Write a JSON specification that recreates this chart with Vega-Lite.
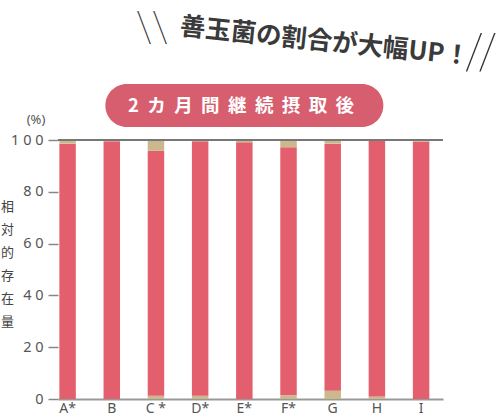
{
  "$schema": "https://vega.github.io/schema/vega-lite/v6.json",
  "autosize": {"type": "none"},
  "padding": {"left": 58, "top": 140, "right": 56, "bottom": 17},
  "width": 385,
  "height": 259,
  "config": {"view": {"stroke": null}, "font": "Noto Sans CJK JP"},
  "data": {
    "values": [
      {"cat": "A*", "seg": "mid", "ord": 2, "v": 98.6},
      {"cat": "A*", "seg": "high", "ord": 3, "v": 1.4},
      {"cat": "B", "seg": "mid", "ord": 2, "v": 99.5},
      {"cat": "B", "seg": "high", "ord": 3, "v": 0.5},
      {"cat": "C*", "seg": "low", "ord": 1, "v": 1.3},
      {"cat": "C*", "seg": "mid", "ord": 2, "v": 94.5},
      {"cat": "C*", "seg": "high", "ord": 3, "v": 3.7},
      {"cat": "C*", "seg": "other", "ord": 4, "v": 0.5},
      {"cat": "D*", "seg": "low", "ord": 1, "v": 1.3},
      {"cat": "D*", "seg": "mid", "ord": 2, "v": 98.2},
      {"cat": "D*", "seg": "high", "ord": 3, "v": 0.5},
      {"cat": "E*", "seg": "mid", "ord": 2, "v": 99.1},
      {"cat": "E*", "seg": "high", "ord": 3, "v": 0.9},
      {"cat": "F*", "seg": "low", "ord": 1, "v": 1.4},
      {"cat": "F*", "seg": "mid", "ord": 2, "v": 95.8},
      {"cat": "F*", "seg": "high", "ord": 3, "v": 2.8},
      {"cat": "G", "seg": "low", "ord": 1, "v": 3.2},
      {"cat": "G", "seg": "mid", "ord": 2, "v": 95.4},
      {"cat": "G", "seg": "high", "ord": 3, "v": 1.4},
      {"cat": "H", "seg": "low", "ord": 1, "v": 1.0},
      {"cat": "H", "seg": "mid", "ord": 2, "v": 99.0},
      {"cat": "I", "seg": "mid", "ord": 2, "v": 99.4},
      {"cat": "I", "seg": "high", "ord": 3, "v": 0.6}
    ]
  },
  "layer": [
    {
      "mark": {"type": "bar"},
      "encoding": {
        "x": {
          "field": "cat",
          "type": "nominal",
          "sort": null,
          "scale": {"paddingInner": 0.627, "paddingOuter": 0.17, "align": 0.09},
          "axis": {
            "title": null,
            "ticks": false,
            "domainColor": "#999",
            "domainWidth": 2,
            "labelAngle": 0,
            "labelPadding": 2,
            "labelFontSize": 14,
            "labelColor": "#555",
            "labelFont": "Noto Sans",
            "labelExpr": "datum.label == 'C*' ? 'C *' : datum.label"
          }
        },
        "y": {
          "field": "v",
          "type": "quantitative",
          "stack": "zero",
          "scale": {"domain": [0, 100], "nice": false},
          "axis": {
            "values": [0, 20, 40, 60, 80, 100],
            "domain": false,
            "grid": false,
            "tickSize": 10,
            "tickColor": "#888",
            "tickWidth": 1.5,
            "labelPadding": 5,
            "labelFontSize": 14.5,
            "labelColor": "#555",
            "labelFont": "Noto Sans",
            "labelExpr": "datum.value == 100 ? '1 0 0' : datum.value == 0 ? '0' : slice(datum.label, 0, 1) + ' ' + slice(datum.label, 1)",
            "title": ["相", "対", "的", "存", "在", "量"],
            "titleAngle": 0,
            "titleFontSize": 13,
            "titleFontWeight": "normal",
            "titleColor": "#444",
            "titleLineHeight": 23,
            "titleX": -51,
            "titleY": 60,
            "titleAlign": "center",
            "titleBaseline": "top",
            "titleFont": "Noto Sans CJK JP"
          }
        },
        "color": {
          "field": "seg",
          "type": "nominal",
          "scale": {
            "domain": ["low", "mid", "high", "other"],
            "range": ["#cbb88c", "#e45f6e", "#cbb88c", "#9c8866"]
          },
          "legend": null
        },
        "order": {"field": "ord", "type": "quantitative"}
      }
    },
    {
      "data": {"values": [{}]},
      "mark": {"type": "rule", "color": "#777", "strokeWidth": 2},
      "encoding": {"y": {"datum": 100, "type": "quantitative", "scale": {"domain": [0, 100], "nice": false}}}
    },
    {
      "data": {"values": [{}]},
      "mark": {"type": "bar", "width": 278, "cornerRadius": 21.5, "color": "#d65e6e"},
      "encoding": {
        "x": {"datum": "E*", "type": "nominal"},
        "y": {"datum": 105.0, "type": "quantitative", "scale": {"domain": [0, 100], "nice": false}},
        "y2": {"datum": 121.6}
      }
    },
    {
      "data": {"values": [{}]},
      "mark": {
        "type": "text",
        "text": "2\u00a0\u00a0カ\u00a0\u00a0月\u00a0\u00a0間\u00a0\u00a0継\u00a0\u00a0続\u00a0\u00a0摂\u00a0\u00a0取\u00a0\u00a0後",
        "font": "Noto Sans CJK JP",
        "fontSize": 18.5,
        "fontWeight": "bold",
        "color": "#ffffff",
        "baseline": "middle",
        "align": "center",
        "dx": -3.3
      },
      "encoding": {
        "x": {"datum": "E*", "type": "nominal"},
        "y": {"datum": 113.3, "type": "quantitative", "scale": {"domain": [0, 100], "nice": false}}
      }
    },
    {
      "data": {"values": [{}]},
      "mark": {
        "type": "text",
        "text": "(%)",
        "font": "Noto Sans",
        "fontSize": 13,
        "color": "#555",
        "baseline": "middle",
        "align": "center",
        "dx": -31.6
      },
      "encoding": {
        "x": {"datum": "A*", "type": "nominal"},
        "y": {"datum": 107.6, "type": "quantitative", "scale": {"domain": [0, 100], "nice": false}}
      }
    },
    {
      "data": {"values": [{}]},
      "mark": {
        "type": "text",
        "text": "善玉菌の割合が大幅UP！",
        "font": "Noto Sans CJK JP",
        "fontSize": 25.5,
        "fontWeight": "bold",
        "color": "#3a3a3a",
        "baseline": "middle",
        "align": "center",
        "angle": 6,
        "dx": -8
      },
      "encoding": {
        "x": {"datum": "G", "type": "nominal"},
        "y": {"datum": 137.6, "type": "quantitative", "scale": {"domain": [0, 100], "nice": false}}
      }
    },
    {
      "data": {"values": [{}]},
      "mark": {
        "type": "text",
        "text": "\\\\",
        "font": "Roboto",
        "fontWeight": 100,
        "fontSize": 42,
        "color": "#333",
        "baseline": "middle",
        "align": "center",
        "dx": -4
      },
      "encoding": {
        "x": {"datum": "C*", "type": "nominal"},
        "y": {"datum": 143.3, "type": "quantitative", "scale": {"domain": [0, 100], "nice": false}}
      }
    },
    {
      "data": {"values": [{}]},
      "mark": {
        "type": "text",
        "text": "//",
        "font": "Roboto",
        "fontWeight": 100,
        "fontSize": 50,
        "color": "#333",
        "baseline": "middle",
        "align": "center",
        "dx": 60
      },
      "encoding": {
        "x": {"datum": "I", "type": "nominal"},
        "y": {"datum": 133.2, "type": "quantitative", "scale": {"domain": [0, 100], "nice": false}}
      }
    }
  ]
}
